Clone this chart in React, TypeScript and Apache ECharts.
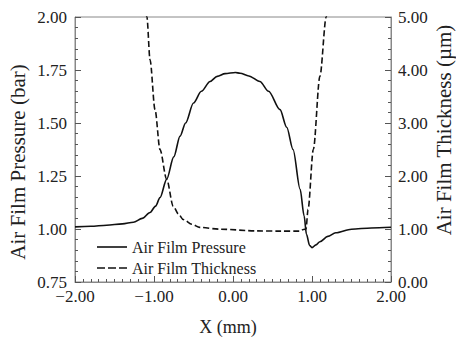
import React, { useEffect, useRef } from "react";
import * as echarts from "echarts";

const pressureX = [-2.0, -1.8, -1.6, -1.4, -1.26, -1.15, -1.05, -0.98, -0.924, -0.84, -0.75, -0.67, -0.6, -0.5, -0.4, -0.29, -0.2, -0.1, 0.03, 0.09, 0.2, 0.34, 0.45, 0.595, 0.68, 0.76, 0.85, 0.9, 0.93, 0.97, 1.0, 1.05, 1.1, 1.2, 1.3, 1.5, 1.75, 2.0];
const pressureY = [1.010, 1.013, 1.018, 1.024, 1.032, 1.05, 1.078, 1.108, 1.148, 1.234, 1.34, 1.438, 1.50, 1.594, 1.65, 1.696, 1.72, 1.733, 1.738, 1.735, 1.722, 1.696, 1.65, 1.563, 1.48, 1.375, 1.187, 1.062, 0.975, 0.922, 0.912, 0.925, 0.94, 0.965, 0.982, 0.999, 1.005, 1.008];

const thicknessX = [-1.15, -1.09, -1.05, -0.987, -0.924, -0.84, -0.756, -0.69, -0.63, -0.52, -0.42, -0.16, 0.3, 0.6, 0.85, 0.89, 0.924, 0.95, 1.017, 1.1, 1.18, 1.22];
const thicknessY = [5.9, 5.0, 4.19, 3.25, 2.5, 1.94, 1.43, 1.28, 1.18, 1.09, 1.03, 0.996, 0.964, 0.96, 0.96, 0.99, 1.0, 1.37, 2.5, 3.88, 5.0, 5.6];

const seriesNames = ["Air Film Pressure", "Air Film Thickness"];
const xTitle = "X (mm)";
const leftTitle = "Air Film Pressure (bar)";
const rightTitle = "Air Film Thickness (\u00b5m)";

const FONT = "Liberation Serif";
const fmt = (v: number) => v.toFixed(2).replace("-", "\u2212");

const solidIcon = "path://M0,0h30v1.6h-30z";
const dashIcon = "path://M0,0h8v1.6h-8zM11,0h8v1.6h-8zM22,0h8v1.6h-8z";

export default function App() {
  const ref = useRef<HTMLDivElement>(null);
  useEffect(() => {
    if (!ref.current) return;
    const chart = echarts.init(ref.current, undefined, { renderer: "svg" });
    const axisLine = { show: true, onZero: false, lineStyle: { color: "#888", width: 1 } };
    const labelStyle = { color: "#222", fontFamily: FONT, fontSize: 17 };
    const nameStyle = { color: "#222", fontFamily: FONT, fontSize: 18, padding: [0, 10, 0, 0] };
    const vTitleFont = "21px Liberation Serif";
    chart.setOption({
      animation: false,
      grid: { left: 75, right: 65, top: 17, bottom: 58, show: true, borderColor: "#888", borderWidth: 1, backgroundColor: "transparent" },
      graphic: [
        {
          type: "text",
          x: 18,
          y: 162,
          rotation: Math.PI / 2,
          style: { text: leftTitle, font: vTitleFont, fill: "#222", align: "center", verticalAlign: "middle" },
        },
        {
          type: "text",
          x: 444,
          y: 130,
          rotation: Math.PI / 2,
          style: { text: rightTitle, font: vTitleFont, fill: "#222", align: "center", verticalAlign: "middle" },
        },
      ],
      legend: {
        orient: "vertical",
        left: 92,
        top: 233,
        itemWidth: 30,
        itemHeight: 2,
        itemGap: 3,
        textStyle: { color: "#222", fontFamily: FONT, fontSize: 16, lineHeight: 18 },
        data: [
          { name: seriesNames[0], icon: solidIcon, itemStyle: { color: "#111" } },
          { name: seriesNames[1], icon: dashIcon, itemStyle: { color: "#111" } },
        ],
      },
      xAxis: {
        type: "value",
        min: -2,
        max: 2,
        interval: 1,
        name: xTitle,
        nameLocation: "middle",
        nameGap: 36,
        nameTextStyle: nameStyle,
        axisLine,
        axisTick: { inside: true, length: 6, lineStyle: { color: "#555" } },
        minorTick: { show: true, splitNumber: 10, length: 3, lineStyle: { color: "#555" } },
        splitLine: { show: false },
        axisLabel: { ...labelStyle, formatter: fmt, margin: 6 },
      },
      yAxis: [
        {
          type: "value",
          min: 0.75,
          max: 2,
          interval: 0.25,
          axisLine,
          axisTick: { inside: true, length: 6, lineStyle: { color: "#555" } },
          minorTick: { show: true, splitNumber: 5, length: 3, lineStyle: { color: "#555" } },
          splitLine: { show: false },
          axisLabel: { ...labelStyle, formatter: fmt, margin: 8 },
        },
        {
          type: "value",
          min: 0,
          max: 5,
          interval: 1,
          position: "right",
          axisLine,
          axisTick: { inside: true, length: 6, lineStyle: { color: "#555" } },
          minorTick: { show: true, splitNumber: 5, length: 3, lineStyle: { color: "#555" } },
          splitLine: { show: false },
          axisLabel: { ...labelStyle, formatter: fmt, margin: 7 },
        },
      ],
      series: [
        {
          name: seriesNames[0],
          type: "line",
          yAxisIndex: 0,
          data: pressureX.map((x, i) => [x, pressureY[i]]),
          symbol: "none",
          smooth: 0.3,
          smoothMonotone: "x",
          clip: true,
          lineStyle: { color: "#111", width: 1.6, type: "solid" },
          itemStyle: { color: "#111" },
        },
        {
          name: seriesNames[1],
          type: "line",
          yAxisIndex: 1,
          data: thicknessX.map((x, i) => [x, thicknessY[i]]),
          symbol: "none",
          smooth: 0.3,
          smoothMonotone: "x",
          clip: true,
          lineStyle: { color: "#111", width: 1.6, type: [6, 3] },
          itemStyle: { color: "#111" },
        },
      ],
    });
    return () => chart.dispose();
  }, []);
  return <div ref={ref} style={{ width: 456, height: 341, position: "absolute", left: 0, top: 0 }} />;
}
